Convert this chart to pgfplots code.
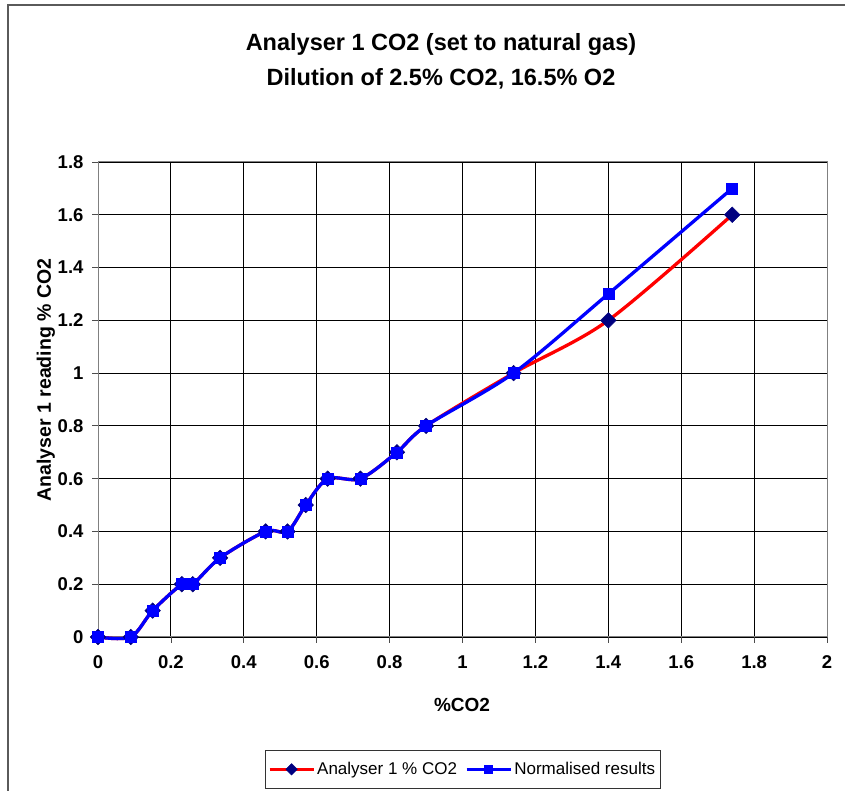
\documentclass[border=0pt]{standalone}
\usepackage{fontspec}
\setmainfont{Liberation Sans}
\usepackage{pgfplots}
\pgfplotsset{compat=1.18}

\definecolor{navy}{RGB}{0,0,128}
\definecolor{framegray}{RGB}{90,90,90}

\begin{document}
\begin{tikzpicture}[x=1pt,y=1pt]
\useasboundingbox (0,0) rectangle (845,791);
% outer chart frame (right and bottom sides fall outside the picture)
\draw[line width=1.5pt, framegray] (8,-30) rectangle (900,786);

\node[anchor=base, font=\bfseries\fontsize{23.5}{23.5}\selectfont] at (441,740) {Analyser 1 CO2 (set to natural gas)};
\node[anchor=base, font=\bfseries\fontsize{23.5}{23.5}\selectfont] at (441,705) {Dilution of 2.5\% CO2, 16.5\% O2};
\node[rotate=90, font=\bfseries\fontsize{19.5}{19.5}\selectfont] at (46,411) {Analyser 1 reading \% CO2};
\node[font=\bfseries\fontsize{19}{19}\selectfont] at (462,86) {\%CO2};

\begin{axis}[
at={(98pt,154pt)}, anchor=south west,
scale only axis,
width=729pt, height=475pt,
xmin=0, xmax=2, ymin=0, ymax=1.8,
xtick={0,0.2,...,2},
ytick={0,0.2,...,1.8},
xticklabels={0,0.2,0.4,0.6,0.8,1,1.2,1.4,1.6,1.8,2},
yticklabels={0,0.2,0.4,0.6,0.8,1,1.2,1.4,1.6,1.8},
grid=major,
major grid style={black, line width=0.9pt},
axis line style={gray, line width=1pt},
tick align=outside,
major tick length=6pt,
tick style={black!70, line width=0.8pt},
xtick pos=bottom, ytick pos=left,
ticklabel style={font=\bfseries\fontsize{18.5}{18.5}\selectfont},
xticklabel style={yshift=-9pt},
yticklabel style={xshift=-5pt},
clip=false,
legend columns=2,
legend style={
  at={(0.5,-0.2379)}, anchor=north,
  draw=black!80, line width=0.8pt,
  font=\fontsize{17}{17}\selectfont,
  inner xsep=3pt, inner ysep=10pt,
  /tikz/every even column/.append style={column sep=6pt}
},
legend image code/.code={%
  \draw[mark repeat=2, mark phase=2, mark size=4pt] plot coordinates {(0pt,0pt) (22pt,0pt) (44pt,0pt)};
},
]
\addplot[red, line width=3.3pt, smooth, mark=square*, mark size=5.5pt,
  mark options={rotate=45, fill=navy, draw=navy, line width=0.5pt}]
coordinates {
(0,0) (0.09,0) (0.15,0.1) (0.23,0.2) (0.26,0.2) (0.335,0.3) (0.46,0.4) (0.52,0.4)
(0.57,0.5) (0.63,0.6) (0.72,0.6) (0.82,0.7) (0.90,0.8) (1.14,1.0) (1.40,1.2) (1.74,1.6)
};
\addlegendentry{Analyser 1 \% CO2}
\addplot[blue, line width=3.3pt, smooth, mark=square*, mark size=5.5pt,
  mark options={fill=blue, draw=blue, line width=0.5pt}]
coordinates {
(0,0) (0.09,0) (0.15,0.1) (0.23,0.2) (0.26,0.2) (0.335,0.3) (0.46,0.4) (0.52,0.4)
(0.57,0.5) (0.63,0.6) (0.72,0.6) (0.82,0.7) (0.90,0.8) (1.14,1.0) (1.40,1.3) (1.74,1.7)
};
\addlegendentry{Normalised results}
\end{axis}
\end{tikzpicture}
\end{document}
